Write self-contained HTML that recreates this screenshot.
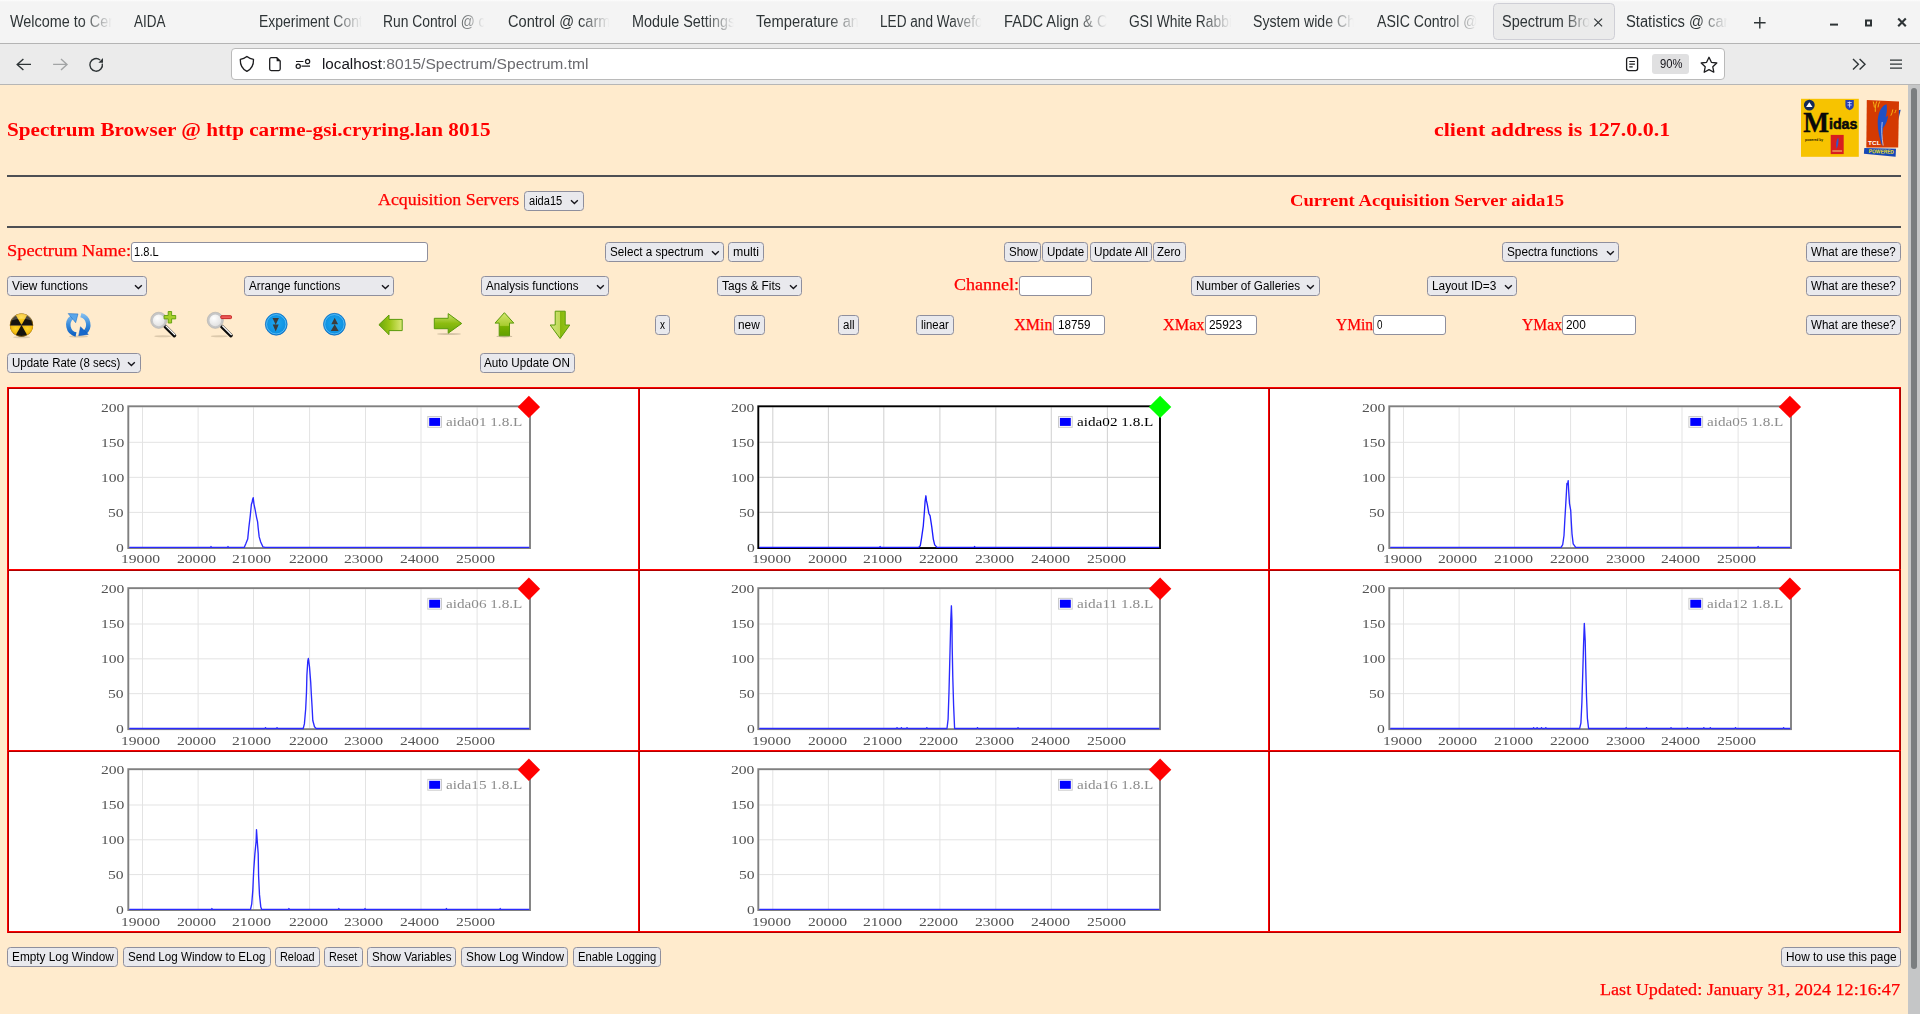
<!DOCTYPE html>
<html lang="en"><head><meta charset="utf-8"><title>Spectrum Browser</title>
<style>
html,body{margin:0;padding:0}
body{width:1920px;height:1014px;overflow:hidden;position:relative;background:#ffebcd;font-family:"Liberation Sans",sans-serif}
.a,.t,.btn,.inp,.hr,.tabbar,.navbar,.acttab,.urlbar,.zoomb,.tbl,.sbtrack,.sbthumb{position:absolute}
.t{white-space:pre;transform-origin:0 0;line-height:normal}
.sa{font-family:"Liberation Sans",sans-serif}
.se{font-family:"Liberation Serif",serif}
.tabbar{left:0;top:0;width:1920px;height:43px;background:linear-gradient(#fdfdfd 0,#f4f4f4 2px);border-bottom:1px solid #b4b4b4}
.navbar{left:0;top:44px;width:1920px;height:40px;background:#ebebeb;border-bottom:1px solid #b6b6b6}
.acttab{left:1492.500px;top:3px;width:122px;height:37px;box-sizing:border-box;background:#ebebeb;border:1px solid #cfcfd6;border-radius:4.500px}
.urlbar{left:231px;top:48px;width:1493.500px;height:31.500px;box-sizing:border-box;background:#fff;border:1px solid #bababa;border-radius:4px}
.zoomb{left:1652px;top:54px;width:36.800px;height:19.800px;background:#e0e0e1;border-radius:3px}
.btn{box-sizing:border-box;background:#e9e9ed;border:1px solid #8f8f9d;border-radius:3.500px}
.inp{box-sizing:border-box;background:#fff;border:1px solid #8f8f9d;border-radius:3px}
.hr{left:7px;width:1894px;height:2px;background:#4d4f53}
.tbl{left:7px;top:387px;width:1894px;height:546px;background:#fff}
.sbtrack{left:1908px;top:85px;width:12px;height:929px;background:#c5c6c7}
.sbthumb{left:1911px;top:88px;width:6px;height:881px;background:#7b7e80;border-radius:3px}
</style></head>
<body>
<div class="tabbar"></div><div class="navbar"></div>
<div class="acttab"></div>
<span class="t sa" style="left:10.00px;top:13.00px;font-size:15.8px;color:#2e3436;transform:scaleX(0.9118);-webkit-mask-image:linear-gradient(to right,#000 70%,transparent 99%);mask-image:linear-gradient(to right,#000 70%,transparent 99%);">Welcome to Cer</span>
<span class="t sa" style="left:134.25px;top:13.00px;font-size:15.8px;color:#2e3436;transform:scaleX(0.8542);">AIDA</span>
<span class="t sa" style="left:258.75px;top:13.00px;font-size:15.8px;color:#2e3436;transform:scaleX(0.8818);-webkit-mask-image:linear-gradient(to right,#000 70%,transparent 99%);mask-image:linear-gradient(to right,#000 70%,transparent 99%);">Experiment Cont</span>
<span class="t sa" style="left:382.50px;top:13.00px;font-size:15.8px;color:#2e3436;transform:scaleX(0.8760);-webkit-mask-image:linear-gradient(to right,#000 70%,transparent 99%);mask-image:linear-gradient(to right,#000 70%,transparent 99%);">Run Control @ c</span>
<span class="t sa" style="left:507.50px;top:13.00px;font-size:15.8px;color:#2e3436;transform:scaleX(0.9247);-webkit-mask-image:linear-gradient(to right,#000 70%,transparent 99%);mask-image:linear-gradient(to right,#000 70%,transparent 99%);">Control @ carm</span>
<span class="t sa" style="left:631.75px;top:13.00px;font-size:15.8px;color:#2e3436;transform:scaleX(0.9114);-webkit-mask-image:linear-gradient(to right,#000 70%,transparent 99%);mask-image:linear-gradient(to right,#000 70%,transparent 99%);">Module Settings</span>
<span class="t sa" style="left:755.75px;top:13.00px;font-size:15.8px;color:#2e3436;transform:scaleX(0.9309);-webkit-mask-image:linear-gradient(to right,#000 70%,transparent 99%);mask-image:linear-gradient(to right,#000 70%,transparent 99%);">Temperature an</span>
<span class="t sa" style="left:880.00px;top:13.00px;font-size:15.8px;color:#2e3436;transform:scaleX(0.8625);-webkit-mask-image:linear-gradient(to right,#000 70%,transparent 99%);mask-image:linear-gradient(to right,#000 70%,transparent 99%);">LED and Wavefo</span>
<span class="t sa" style="left:1004.00px;top:13.00px;font-size:15.8px;color:#2e3436;transform:scaleX(0.9283);-webkit-mask-image:linear-gradient(to right,#000 70%,transparent 99%);mask-image:linear-gradient(to right,#000 70%,transparent 99%);">FADC Align &amp; C</span>
<span class="t sa" style="left:1128.50px;top:13.00px;font-size:15.8px;color:#2e3436;transform:scaleX(0.8754);-webkit-mask-image:linear-gradient(to right,#000 70%,transparent 99%);mask-image:linear-gradient(to right,#000 70%,transparent 99%);">GSI White Rabbi</span>
<span class="t sa" style="left:1253.00px;top:13.00px;font-size:15.8px;color:#2e3436;transform:scaleX(0.8936);-webkit-mask-image:linear-gradient(to right,#000 70%,transparent 99%);mask-image:linear-gradient(to right,#000 70%,transparent 99%);">System wide Ch</span>
<span class="t sa" style="left:1377.00px;top:13.00px;font-size:15.8px;color:#2e3436;transform:scaleX(0.8925);-webkit-mask-image:linear-gradient(to right,#000 70%,transparent 99%);mask-image:linear-gradient(to right,#000 70%,transparent 99%);">ASIC Control @</span>
<span class="t sa" style="left:1501.75px;top:13.00px;font-size:15.8px;color:#2e3436;transform:scaleX(0.9138);-webkit-mask-image:linear-gradient(to right,#000 70%,transparent 99%);mask-image:linear-gradient(to right,#000 70%,transparent 99%);">Spectrum Bro</span>
<span class="t sa" style="left:1626.25px;top:13.00px;font-size:15.8px;color:#2e3436;transform:scaleX(0.9321);-webkit-mask-image:linear-gradient(to right,#000 70%,transparent 99%);mask-image:linear-gradient(to right,#000 70%,transparent 99%);">Statistics @ car</span>
<svg class="a" style="left:1590px;top:14px" width="18" height="18" viewBox="0 0 18 18"><path d="M4.3 4.6l7.8 7.8M12.1 4.6l-7.8 7.800" stroke="#2e3436" stroke-width="1.150" fill="none"/></svg>
<svg class="a" style="left:1750px;top:13px" width="20" height="20" viewBox="0 0 20 20"><path d="M4 9.75h11.6M9.8 4v11.6" stroke="#2e3436" stroke-width="1.4" fill="none"/></svg>
<svg class="a" style="left:1824px;top:12px" width="90" height="22" viewBox="0 0 90 22"><path d="M6 12.6h8" stroke="#2e3436" stroke-width="2"/><rect x="42" y="8.5" width="5" height="5" fill="none" stroke="#2e3436" stroke-width="2"/><path d="M74.2 6.6l7.6 7.6M81.8 6.6l-7.6 7.6" stroke="#2e3436" stroke-width="2.1"/></svg>
<svg class="a" style="left:10px;top:54px" width="100" height="22" viewBox="0 0 100 22"><path d="M21 10.4H7.2M13.4 5L7.2 10.4l6.2 5.7" stroke="#2e3436" stroke-width="1.4" fill="none"/><path d="M43.1 10.4H57M51 5l6 5.4-6 5.7" stroke="#a2a4a5" stroke-width="1.4" fill="none"/><path d="M92.3 9.6a6.3 6.3 0 1 1-2.2-3.6" stroke="#2e3436" stroke-width="1.4" fill="none"/><path d="M93 4v4.8h-4.6z" fill="#2e3436"/></svg>
<div class="urlbar"></div>
<svg class="a" style="left:236px;top:52px" width="80" height="24" viewBox="0 0 80 24"><path d="M10.9 4.4c2 1.6 4.3 2.6 6.6 3 .2 5.600-2.200 9.600-6.600 12-4.400-2.400-6.800-6.400-6.600-12 2.300-.4 4.600-1.400 6.600-3z" fill="none" stroke="#1c1c1e" stroke-width="1.3" stroke-linejoin="round"/><path d="M35.200 5.700h5.600l3.400 3.400v8a1.500 1.500 0 0 1-1.500 1.500h-7.500a1.500 1.500 0 0 1-1.500-1.500v-9.900a1.500 1.500 0 0 1 1.500-1.500z" fill="none" stroke="#1c1c1e" stroke-width="1.3"/><path d="M40.600 5.700l3.600 3.600h-3.600z" fill="#1c1c1e"/><path d="M60 9.500h7.400M65.500 14.200h8.500" stroke="#1c1c1e" stroke-width="1.200"/><circle cx="71.600" cy="9.500" r="2.100" fill="none" stroke="#1c1c1e" stroke-width="1.200"/><circle cx="62.250" cy="14.200" r="2.100" fill="none" stroke="#1c1c1e" stroke-width="1.200"/></svg>
<span class="t sa" style="left:321.60px;top:54.70px;font-size:15.4px;color:#15141a;transform:scaleX(0.9860);">localhost</span>
<span class="t sa" style="left:381.50px;top:54.70px;font-size:15.4px;color:#6a6a6e;transform:scaleX(1.0143);">:8015/Spectrum/Spectrum.tml</span>
<svg class="a" style="left:1622px;top:54px" width="20" height="20" viewBox="0 0 20 20"><rect x="4.600" y="3.600" width="11" height="13" rx="2" fill="none" stroke="#1c1c1e" stroke-width="1.300"/><path d="M7.300 7.500h5.600M7.300 10.200h5.600M7.300 12.900h3.400" stroke="#1c1c1e" stroke-width="1.200"/></svg>
<div class="zoomb"></div>
<span class="t sa" style="left:1659.50px;top:57.20px;font-size:12.5px;color:#15141a;transform:scaleX(0.8989);">90%</span>
<svg class="a" style="left:1698px;top:54px" width="22" height="22" viewBox="0 0 22 22"><path d="M11 3.300l2.400 5 5.400.700-4 3.800 1 5.400-4.800-2.600-4.800 2.600 1-5.400-4-3.800 5.400-.700z" fill="none" stroke="#1c1c1e" stroke-width="1.300" stroke-linejoin="round"/></svg>
<svg class="a" style="left:1848px;top:54px" width="60" height="20" viewBox="0 0 60 20"><path d="M5 5l5.400 5.200L5 15.400M11.600 5l5.400 5.200-5.400 5.200" stroke="#2e3436" stroke-width="1.400" fill="none"/><path d="M42 6.100h12M42 10.100h12M42 14.100h12" stroke="#2e3436" stroke-width="1.300"/></svg>
<span class="t se" style="left:6.90px;top:119.00px;font-size:19.2px;color:#ff0000;font-weight:bold;transform:scaleX(1.1026);">Spectrum Browser @ http carme-gsi.cryring.lan 8015</span>
<span class="t se" style="left:1434.00px;top:119.00px;font-size:19.2px;color:#ff0000;font-weight:bold;transform:scaleX(1.1441);">client address is 127.0.0.1</span>
<div class="hr" style="top:175px"></div><div class="hr" style="top:226px"></div>
<span class="t se" style="left:377.50px;top:190.80px;font-size:16px;color:#ff0000;transform:scaleX(1.1152);-webkit-text-stroke:0.250px #f00;">Acquisition Servers</span>
<div class="btn" style="left:524.00px;top:191.00px;width:60.00px;height:20.00px"></div><span class="t sa" style="left:528.75px;top:193.90px;font-size:12px;color:#000;transform:scaleX(0.9224);">aida15</span><svg class="a" style="left:570.40px;top:198.60px" width="9" height="6" viewBox="0 0 9 6"><path d="M1 1.200l3.400 3.400 3.400-3.400" fill="none" stroke="#15141a" stroke-width="1.350"/></svg>
<span class="t se" style="left:1290.00px;top:191.60px;font-size:16px;color:#ff0000;font-weight:bold;transform:scaleX(1.1639);">Current Acquisition Server aida15</span>
<span class="t se" style="left:6.60px;top:241.80px;font-size:16px;color:#ff0000;transform:scaleX(1.1485);-webkit-text-stroke:0.250px #f00;">Spectrum Name:</span>
<div class="inp" style="left:131.25px;top:242.00px;width:296.75px;height:20.00px"></div><span class="t sa" style="left:134.25px;top:244.90px;font-size:12px;color:#000;transform:scaleX(0.9231);">1.8.L</span>
<div class="btn" style="left:605.00px;top:242.00px;width:118.75px;height:20.00px"></div><span class="t sa" style="left:610.00px;top:244.90px;font-size:12px;color:#000;transform:scaleX(0.9735);">Select a spectrum</span><svg class="a" style="left:710.65px;top:249.60px" width="9" height="6" viewBox="0 0 9 6"><path d="M1 1.200l3.400 3.400 3.400-3.400" fill="none" stroke="#15141a" stroke-width="1.350"/></svg>
<div class="btn" style="left:728.25px;top:242.00px;width:35.50px;height:20.00px"></div><span class="t sa" style="left:733.25px;top:244.90px;font-size:12px;color:#000;transform:scaleX(1.0259);">multi</span>
<div class="btn" style="left:1004.20px;top:242.00px;width:37.20px;height:20.00px"></div><span class="t sa" style="left:1008.75px;top:244.90px;font-size:12px;color:#000;transform:scaleX(0.9573);">Show</span>
<div class="btn" style="left:1042.40px;top:242.00px;width:46.00px;height:20.00px"></div><span class="t sa" style="left:1047.00px;top:244.90px;font-size:12px;color:#000;transform:scaleX(0.9625);">Update</span>
<div class="btn" style="left:1089.60px;top:242.00px;width:62.00px;height:20.00px"></div><span class="t sa" style="left:1093.75px;top:244.90px;font-size:12px;color:#000;transform:scaleX(0.9826);">Update All</span>
<div class="btn" style="left:1152.60px;top:242.00px;width:33.00px;height:20.00px"></div><span class="t sa" style="left:1157.00px;top:244.90px;font-size:12px;color:#000;transform:scaleX(0.9620);">Zero</span>
<div class="btn" style="left:1502.00px;top:242.00px;width:116.75px;height:20.00px"></div><span class="t sa" style="left:1507.00px;top:244.90px;font-size:12px;color:#000;transform:scaleX(0.9815);">Spectra functions</span><svg class="a" style="left:1605.65px;top:249.60px" width="9" height="6" viewBox="0 0 9 6"><path d="M1 1.200l3.400 3.400 3.400-3.400" fill="none" stroke="#15141a" stroke-width="1.350"/></svg>
<div class="btn" style="left:1806.25px;top:242.00px;width:94.35px;height:20.00px"></div><span class="t sa" style="left:1810.75px;top:244.90px;font-size:12px;color:#000;transform:scaleX(0.9624);">What are these?</span>
<div class="btn" style="left:7.00px;top:276.00px;width:140.00px;height:20.00px"></div><span class="t sa" style="left:12.00px;top:278.90px;font-size:12px;color:#000;transform:scaleX(0.9850);">View functions</span><svg class="a" style="left:133.90px;top:283.60px" width="9" height="6" viewBox="0 0 9 6"><path d="M1 1.200l3.400 3.400 3.400-3.400" fill="none" stroke="#15141a" stroke-width="1.350"/></svg>
<div class="btn" style="left:244.25px;top:276.00px;width:149.50px;height:20.00px"></div><span class="t sa" style="left:248.75px;top:278.90px;font-size:12px;color:#000;transform:scaleX(0.9701);">Arrange functions</span><svg class="a" style="left:380.65px;top:283.60px" width="9" height="6" viewBox="0 0 9 6"><path d="M1 1.200l3.400 3.400 3.400-3.400" fill="none" stroke="#15141a" stroke-width="1.350"/></svg>
<div class="btn" style="left:481.25px;top:276.00px;width:127.50px;height:20.00px"></div><span class="t sa" style="left:485.50px;top:278.90px;font-size:12px;color:#000;transform:scaleX(0.9631);">Analysis functions</span><svg class="a" style="left:595.65px;top:283.60px" width="9" height="6" viewBox="0 0 9 6"><path d="M1 1.200l3.400 3.400 3.400-3.400" fill="none" stroke="#15141a" stroke-width="1.350"/></svg>
<div class="btn" style="left:717.00px;top:276.00px;width:85.00px;height:20.00px"></div><span class="t sa" style="left:722.00px;top:278.90px;font-size:12px;color:#000;transform:scaleX(0.9897);">Tags &amp; Fits</span><svg class="a" style="left:788.65px;top:283.60px" width="9" height="6" viewBox="0 0 9 6"><path d="M1 1.200l3.400 3.400 3.400-3.400" fill="none" stroke="#15141a" stroke-width="1.350"/></svg>
<span class="t se" style="left:953.60px;top:276.00px;font-size:16px;color:#ff0000;transform:scaleX(1.1252);-webkit-text-stroke:0.250px #f00;">Channel:</span>
<div class="inp" style="left:1019.25px;top:276.00px;width:72.50px;height:20.00px"></div>
<div class="btn" style="left:1191.25px;top:276.00px;width:128.25px;height:20.00px"></div><span class="t sa" style="left:1195.50px;top:278.90px;font-size:12px;color:#000;transform:scaleX(0.9745);">Number of Galleries</span><svg class="a" style="left:1306.40px;top:283.60px" width="9" height="6" viewBox="0 0 9 6"><path d="M1 1.200l3.400 3.400 3.400-3.400" fill="none" stroke="#15141a" stroke-width="1.350"/></svg>
<div class="btn" style="left:1427.00px;top:276.00px;width:89.50px;height:20.00px"></div><span class="t sa" style="left:1432.00px;top:278.90px;font-size:12px;color:#000;transform:scaleX(0.9877);">Layout ID=3</span><svg class="a" style="left:1503.65px;top:283.60px" width="9" height="6" viewBox="0 0 9 6"><path d="M1 1.200l3.400 3.400 3.400-3.400" fill="none" stroke="#15141a" stroke-width="1.350"/></svg>
<div class="btn" style="left:1806.25px;top:276.00px;width:94.35px;height:20.00px"></div><span class="t sa" style="left:1810.75px;top:278.90px;font-size:12px;color:#000;transform:scaleX(0.9624);">What are these?</span>
<div class="btn" style="left:655.00px;top:315.00px;width:15.00px;height:20.00px"></div><span class="t sa" style="left:660.00px;top:317.90px;font-size:12px;color:#000;transform:scaleX(0.8333);">x</span>
<div class="btn" style="left:734.25px;top:315.00px;width:30.75px;height:20.00px"></div><span class="t sa" style="left:738.25px;top:317.90px;font-size:12px;color:#000;transform:scaleX(0.9879);">new</span>
<div class="btn" style="left:838.00px;top:315.00px;width:20.75px;height:20.00px"></div><span class="t sa" style="left:843.00px;top:317.90px;font-size:12px;color:#000;transform:scaleX(0.9571);">all</span>
<div class="btn" style="left:916.25px;top:315.00px;width:37.50px;height:20.00px"></div><span class="t sa" style="left:921.25px;top:317.90px;font-size:12px;color:#000;transform:scaleX(0.9452);">linear</span>
<span class="t se" style="left:1014.25px;top:315.50px;font-size:16px;color:#ff0000;-webkit-text-stroke:0.250px #f00;">XMin</span>
<div class="inp" style="left:1053.00px;top:315.00px;width:52.00px;height:20.00px"></div><span class="t sa" style="left:1057.50px;top:317.90px;font-size:12px;color:#000;transform:scaleX(0.9738);">18759</span>
<span class="t se" style="left:1163.00px;top:315.50px;font-size:16px;color:#ff0000;transform:scaleX(1.0149);-webkit-text-stroke:0.250px #f00;">XMax</span>
<div class="inp" style="left:1205.25px;top:315.00px;width:51.75px;height:20.00px"></div><span class="t sa" style="left:1208.75px;top:317.90px;font-size:12px;color:#000;transform:scaleX(0.9888);">25923</span>
<span class="t se" style="left:1335.50px;top:315.50px;font-size:16px;color:#ff0000;transform:scaleX(0.9677);-webkit-text-stroke:0.250px #f00;">YMin</span>
<div class="inp" style="left:1373.25px;top:315.00px;width:72.75px;height:20.00px"></div><span class="t sa" style="left:1377.00px;top:317.90px;font-size:12px;color:#000;transform:scaleX(0.8224);">0</span>
<span class="t se" style="left:1522.00px;top:315.50px;font-size:16px;color:#ff0000;transform:scaleX(0.9782);-webkit-text-stroke:0.250px #f00;">YMax</span>
<div class="inp" style="left:1562.00px;top:315.00px;width:74.00px;height:20.00px"></div><span class="t sa" style="left:1566.00px;top:317.90px;font-size:12px;color:#000;transform:scaleX(0.9860);">200</span>
<div class="btn" style="left:1806.25px;top:315.00px;width:94.35px;height:20.00px"></div><span class="t sa" style="left:1810.75px;top:317.90px;font-size:12px;color:#000;transform:scaleX(0.9624);">What are these?</span>
<div class="btn" style="left:7.00px;top:353.00px;width:134.00px;height:20.00px"></div><span class="t sa" style="left:11.90px;top:355.90px;font-size:12px;color:#000;transform:scaleX(0.9560);">Update Rate (8 secs)</span><svg class="a" style="left:127.40px;top:360.60px" width="9" height="6" viewBox="0 0 9 6"><path d="M1 1.200l3.400 3.400 3.400-3.400" fill="none" stroke="#15141a" stroke-width="1.350"/></svg>
<div class="btn" style="left:480.30px;top:353.00px;width:94.70px;height:20.00px"></div><span class="t sa" style="left:484.40px;top:355.90px;font-size:12px;color:#000;transform:scaleX(0.9754);">Auto Update ON</span>
<svg class="a" style="left:1798px;top:96px" width="106" height="64" viewBox="1798 96 106 64"><rect x="1801" y="98.800" width="57.800" height="58" fill="#f7c300"/><circle cx="1809.300" cy="105.100" r="5.400" fill="#152a58"/><path d="M1809.300 102.300l3.200 4.600h-6.400z" fill="#fff"/><path d="M1845.400 100h8.400v5.500c0 2.500-2 4-4.200 4.800-2.200-.800-4.200-2.300-4.200-4.800z" fill="#2640b4"/><path d="M1847.500 102.500h4.200M1847.500 105h4.200M1849.600 101.500v6" stroke="#cfd8ff" stroke-width="0.900"/><text x="1803.200" y="131.500" font-family="'Liberation Serif',serif" font-weight="bold" font-size="29" textLength="25.800" lengthAdjust="spacingAndGlyphs" fill="#0a0a0a" stroke="#0a0a0a" stroke-width="0.400">M</text><text x="1829" y="129" font-family="'Liberation Sans',sans-serif" font-weight="bold" font-size="14.500" textLength="28.400" lengthAdjust="spacingAndGlyphs" fill="#0a0a0a" stroke="#0a0a0a" stroke-width="0.550">idas</text><text x="1805" y="140.700" font-family="'Liberation Sans',sans-serif" font-weight="bold" font-size="3.800" textLength="18" lengthAdjust="spacingAndGlyphs" fill="#1a1400">powered by</text><rect x="1830.700" y="134.900" width="13" height="19.200" fill="#d81e1e"/><path d="M1838.300 137.500c-2.200 2.500-2.600 7-1.600 11.500 1.400-3.500 2.200-7.500 1.600-11.500z" fill="#2a58d0"/><path d="M1832.300 151h9.800" stroke="#f0a060" stroke-width="1.400"/><path d="M1864.300 147.900l31.700.800-.4 8-31.700-2.900z" fill="#1648b8"/><path d="M1898.200 110.200l2.500-.4-2.500 10.400z" fill="#1648b8"/><path d="M1866.800 100.100l32.200 1.300-.800 46.100-31.900-.1z" fill="#d43a02"/><path d="M1886.500 104.300c-5.500 1.500-9 9.500-8.800 19.500.1 6.500 1.600 13 3.600 19.700l1.300 2.900c-.6-6.400-.3-12.600.5-18.400 2.700-3.200 4.800-7.800 4.900-12.700l-2.400 2.200c1.200-4.300 1.800-8.700.9-13.200z" fill="#1f50c4"/><path d="M1882.200 122c-.9 7.500-.5 15.500 1 23.500" stroke="#e8eefc" stroke-width="0.700" fill="none"/><path d="M1873.200 101.500c.6 2 1 4 1.200 6M1876.800 101.300c-1.200 3-1.700 6.500-1.500 10.500M1879.800 101.400c-1 1.800-1.600 3.800-1.800 6M1892.800 109.500c-.3 2.200-1 4.300-2 6.200M1896 109.800c-.3 1.200-.7 2.300-1.300 3.300" stroke="#f4b414" stroke-width="1" fill="none"/><text x="1868" y="145.100" font-family="'Liberation Sans',sans-serif" font-weight="bold" font-size="5.400" textLength="12.600" lengthAdjust="spacingAndGlyphs" fill="#fff">TCL</text><text x="1868.900" y="153.400" font-family="'Liberation Sans',sans-serif" font-weight="bold" font-size="5.600" textLength="25" lengthAdjust="spacingAndGlyphs" fill="#f2e020" transform="rotate(1.500 1880 152)">POWERED</text></svg>
<svg class="a" style="left:0;top:300px" width="620" height="50" viewBox="0 300 620 50"><defs>
<radialGradient id="gl" cx="0.4" cy="0.35" r="0.7"><stop offset="0" stop-color="#fff"/><stop offset="1" stop-color="#dcdcdc"/></radialGradient>
<radialGradient id="bl" cx="0.5" cy="0.45" r="0.6"><stop offset="0" stop-color="#1fa8f0"/><stop offset="0.8" stop-color="#0d8fe0"/><stop offset="1" stop-color="#0a62b8"/></radialGradient>
<linearGradient id="gh" x1="0" x2="1" y1="0" y2="0"><stop offset="0" stop-color="#6aa80a"/><stop offset="0.45" stop-color="#9ac414"/><stop offset="1" stop-color="#dde878"/></linearGradient>
<linearGradient id="gv" x1="0" x2="0" y1="0" y2="1"><stop offset="0" stop-color="#cfe470"/><stop offset="0.5" stop-color="#8cbc10"/><stop offset="1" stop-color="#6aa80a"/></linearGradient>
<linearGradient id="gu" x1="0" x2="0" y1="0" y2="1"><stop offset="0" stop-color="#d4e66e"/><stop offset="0.55" stop-color="#a8cc30"/><stop offset="0.6" stop-color="#78b000"/><stop offset="1" stop-color="#62a000"/></linearGradient>
<linearGradient id="gd" x1="0" x2="1" y1="0" y2="0"><stop offset="0" stop-color="#d2e680"/><stop offset="0.48" stop-color="#c0d858"/><stop offset="0.52" stop-color="#86b80c"/><stop offset="1" stop-color="#9cc820"/></linearGradient>
<linearGradient id="rb" gradientUnits="userSpaceOnUse" x1="0" x2="0" y1="313" y2="336"><stop offset="0" stop-color="#8cc4f2"/><stop offset="0.5" stop-color="#3a8cdc"/><stop offset="1" stop-color="#0a5cc0"/></linearGradient>
<radialGradient id="yb" cx="0.5" cy="0.35" r="0.7"><stop offset="0" stop-color="#ffd62a"/><stop offset="1" stop-color="#e8a800"/></radialGradient>
</defs><ellipse cx="21.600" cy="337.200" rx="8.500" ry="1.100" fill="#8a7a60" opacity="0.28"/><circle cx="21.50" cy="325.10" r="11.60" fill="#16140e"/><path d="M21.50 325.10L15.70 315.05A11.60 11.60 0 0 1 27.30 315.05z" fill="url(#yb)"/><path d="M21.50 325.10L33.10 325.10A11.60 11.60 0 0 1 27.30 335.15z" fill="url(#yb)"/><path d="M21.50 325.10L15.70 335.15A11.60 11.60 0 0 1 9.90 325.10z" fill="url(#yb)"/><circle cx="21.50" cy="325.10" r="11.30" fill="none" stroke="#d89400" stroke-opacity="0.6" stroke-width="0.800"/><path d="M10 325.200H33" stroke="#14183a" stroke-width="0.900" opacity="0.85"/><path d="M11.300 320.500a11 11 0 0 1 20.600 0a18 9 0 0 0-20.600 0z" fill="#fff" opacity="0.22"/><ellipse cx="78.500" cy="336.500" rx="9.500" ry="1.100" fill="#8a7a60" opacity="0.3"/><path d="M76 334.500A9.900 9.900 0 0 1 72.300 316.900" fill="none" stroke="url(#rb)" stroke-width="4.400"/><path d="M68.200 313.600l9.800.300-2.300 8.800z" fill="#5aa6ea" stroke="#1464c0" stroke-width="0.500" stroke-linejoin="round"/><path d="M80.900 315.200A9.900 9.900 0 0 1 84.600 332.500" fill="none" stroke="url(#rb)" stroke-width="4.400"/><path d="M80.500 326.800l7.800 7.600-9.600 1.300z" fill="#1668cc" stroke="#1058b8" stroke-width="0.500" stroke-linejoin="round"/><ellipse cx="162.75" cy="336.300" rx="8.500" ry="1" fill="#8a7a60" opacity="0.3"/><path d="M165.15 326.400l9.300 9.200" stroke="#0c0c0c" stroke-width="3.600" stroke-linecap="round"/><path d="M166.05 326l8.800 8.700" stroke="#fafafa" stroke-width="1.250" stroke-linecap="round"/><circle cx="158.75" cy="320.300" r="7" fill="url(#gl)" stroke="#c6c6c6" stroke-width="2.200"/><circle cx="158.75" cy="320.300" r="8.100" fill="none" stroke="#a8a8a8" stroke-width="0.500"/><ellipse cx="219.30" cy="336.300" rx="8.500" ry="1" fill="#8a7a60" opacity="0.3"/><path d="M221.70 326.400l9.300 9.200" stroke="#0c0c0c" stroke-width="3.600" stroke-linecap="round"/><path d="M222.60 326l8.800 8.700" stroke="#fafafa" stroke-width="1.250" stroke-linecap="round"/><circle cx="215.30" cy="320.300" r="7" fill="url(#gl)" stroke="#c6c6c6" stroke-width="2.200"/><circle cx="215.30" cy="320.300" r="8.100" fill="none" stroke="#a8a8a8" stroke-width="0.500"/><path d="M168.200 311.500h3.400v4h4.100v3.400h-4.100v4.100h-3.400v-4.100h-4.100v-3.400h4.100z" fill="#a6cf2a" stroke="#5f9e0c" stroke-width="0.900" stroke-linejoin="round"/><rect x="220.800" y="315.700" width="10.700" height="2.900" rx="0.800" fill="#ee5a5a" stroke="#c01818" stroke-width="0.900"/><circle cx="276.25" cy="324.250" r="10.900" fill="url(#bl)" stroke="#0b6cc2" stroke-width="0.700"/><circle cx="276.25" cy="324.250" r="9.700" fill="none" stroke="#8ad6ff" stroke-opacity="0.7" stroke-width="0.800"/><path d="M272.500 318.100h6.400l-3.200 6.600zM272.700 324.400h6l-3 7z" fill="#3c3c3c"/><circle cx="334.40" cy="324.250" r="10.900" fill="url(#bl)" stroke="#0b6cc2" stroke-width="0.700"/><circle cx="334.40" cy="324.250" r="9.700" fill="none" stroke="#8ad6ff" stroke-opacity="0.7" stroke-width="0.800"/><path d="M334.700 317.700l3.400 6.600h-6.800zM334.700 324.300l3.900 6.800h-7.800z" fill="#3c3c3c"/><path d="M378.900 324.700L389 315v4.400h13.200v11.200H389v4.100z" fill="url(#gh)" stroke="#5a9a0a" stroke-width="1" stroke-linejoin="round"/><ellipse cx="449" cy="334" rx="12" ry="1" fill="#8a7a60" opacity="0.35"/><path d="M434.300 318.300h13.900v-4.700l13.500 9.900-13.500 9.700v-4.500h-13.900z" fill="url(#gv)" stroke="#5a9a0a" stroke-width="1" stroke-linejoin="round"/><ellipse cx="504.400" cy="336.400" rx="8" ry="1" fill="#8a7a60" opacity="0.4"/><path d="M504.400 312.700l9.400 10.400h-4.300v12.700h-10.300v-12.700h-4.200z" fill="url(#gu)" stroke="#5a9a0a" stroke-width="1" stroke-linejoin="round"/><path d="M555.200 311.200h10v13.800h4.600l-9.700 13.500-9.900-13.500h5z" fill="url(#gd)" stroke="#5a9a0a" stroke-width="1" stroke-linejoin="round"/></svg>
<div class="tbl"></div><div class="a" style="left:7px;top:387px;width:1px;height:546px;background:#f00"></div><div class="a" style="left:8px;top:387px;width:1px;height:546px;background:#b00000"></div><div class="a" style="left:638px;top:387px;width:1px;height:546px;background:#f00"></div><div class="a" style="left:639px;top:387px;width:1px;height:546px;background:#b00000"></div><div class="a" style="left:1268px;top:387px;width:1px;height:546px;background:#f00"></div><div class="a" style="left:1269px;top:387px;width:1px;height:546px;background:#b00000"></div><div class="a" style="left:1899px;top:387px;width:1px;height:546px;background:#f00"></div><div class="a" style="left:1900px;top:387px;width:1px;height:546px;background:#b00000"></div><div class="a" style="left:7px;top:387px;width:1894px;height:1px;background:#f00"></div><div class="a" style="left:8px;top:388px;width:1893px;height:1px;background:#b00000"></div><div class="a" style="left:7px;top:569px;width:1894px;height:1px;background:#f00"></div><div class="a" style="left:8px;top:570px;width:1893px;height:1px;background:#b00000"></div><div class="a" style="left:7px;top:750px;width:1894px;height:1px;background:#f00"></div><div class="a" style="left:8px;top:751px;width:1893px;height:1px;background:#b00000"></div><div class="a" style="left:7px;top:931px;width:1894px;height:1px;background:#f00"></div><div class="a" style="left:8px;top:932px;width:1893px;height:1px;background:#b00000"></div>
<svg class="a" style="left:0;top:0" width="1920" height="1014" viewBox="0 0 1920 1014"><path d="M142.50 407.30V547.40M198.10 407.30V547.40M253.50 407.30V547.40M309.60 407.30V547.40M365.50 407.30V547.40M421.00 407.30V547.40M477.10 407.30V547.40M129.30 512.38H529.30M129.30 477.35H529.30M129.30 442.32H529.30" stroke="#e3e3e3" stroke-width="1" fill="none"/><rect x="128.30" y="406.30" width="401.700" height="141.75" fill="none" stroke="#808080" stroke-width="1.900"/><polyline points="129.3,547.4 210.4,547.4 211.0,546.5 211.6,547.4 227.4,547.4 228.0,546.5 228.6,547.4 244.2,547.4 245.9,543.5 247.7,539.1 248.8,528.0 250.3,515.4 251.4,504.3 252.1,502.5 252.6,499.4 253.2,497.6 253.6,500.9 254.0,504.3 255.1,509.5 256.6,517.6 257.6,521.9 258.1,527.2 259.2,536.9 260.7,542.0 262.9,546.8 265.1,547.4 529.3,547.4" fill="none" stroke="#2a2aff" stroke-width="1.350" stroke-linejoin="round"/><rect x="427.80" y="416.50" width="13.700" height="10.800" fill="#fff" stroke="#ccc" stroke-width="1"/><rect x="429.20" y="417.90" width="10.900" height="8" fill="#0000ff"/><path d="M528.90 395.70L540.10 406.90 528.90 418.10 517.70 406.90z" fill="#ff0000"/><path d="M772.80 407.30V547.40M828.40 407.30V547.40M883.80 407.30V547.40M939.90 407.30V547.40M995.80 407.30V547.40M1051.30 407.30V547.40M1107.40 407.30V547.40M759.30 512.38H1159.30M759.30 477.35H1159.30M759.30 442.32H1159.30" stroke="#d4d4d4" stroke-width="1.1" fill="none"/><rect x="758.30" y="406.30" width="401.700" height="141.75" fill="none" stroke="#000" stroke-width="1.900"/><polyline points="759.3,547.4 879.5,547.4 880.1,546.5 880.7,547.4 918.5,547.4 920.3,545.7 921.4,539.1 923.3,525.8 924.4,511.7 925.1,501.3 925.9,495.8 926.4,500.4 927.3,504.3 928.8,513.2 930.1,515.9 930.7,519.9 931.8,527.2 933.3,539.1 934.7,544.9 937.0,547.4 974.0,547.4 974.6,546.5 975.2,547.4 1159.3,547.4" fill="none" stroke="#1c1cff" stroke-width="1.350" stroke-linejoin="round"/><rect x="1058.50" y="416.50" width="13.700" height="10.800" fill="#fff" stroke="#ccc" stroke-width="1"/><rect x="1059.90" y="417.90" width="10.900" height="8" fill="#0000ff"/><path d="M1160.10 395.70L1171.30 406.90 1160.10 418.10 1148.90 406.90z" fill="#00ff00"/><path d="M1403.50 407.30V547.40M1459.10 407.30V547.40M1514.50 407.30V547.40M1570.60 407.30V547.40M1626.50 407.30V547.40M1682.00 407.30V547.40M1738.10 407.30V547.40M1390.30 512.38H1790.30M1390.30 477.35H1790.30M1390.30 442.32H1790.30" stroke="#e3e3e3" stroke-width="1" fill="none"/><rect x="1389.30" y="406.30" width="401.700" height="141.75" fill="none" stroke="#808080" stroke-width="1.900"/><polyline points="1390.3,547.4 1561.1,547.4 1562.7,544.7 1564.0,535.5 1564.8,520.4 1565.7,505.3 1566.5,491.1 1566.9,483.5 1567.5,484.6 1568.2,480.6 1568.6,489.4 1569.5,503.6 1570.7,510.3 1571.3,522.1 1572.0,533.8 1573.2,543.9 1575.7,547.4 1757.5,547.4 1758.1,546.5 1758.7,547.4 1790.3,547.4" fill="none" stroke="#2a2aff" stroke-width="1.350" stroke-linejoin="round"/><rect x="1688.90" y="416.50" width="13.700" height="10.800" fill="#fff" stroke="#ccc" stroke-width="1"/><rect x="1690.30" y="417.90" width="10.900" height="8" fill="#0000ff"/><path d="M1789.90 395.70L1801.10 406.90 1789.90 418.10 1778.70 406.90z" fill="#ff0000"/><path d="M142.50 589.15V728.50M198.10 589.15V728.50M253.50 589.15V728.50M309.60 589.15V728.50M365.50 589.15V728.50M421.00 589.15V728.50M477.10 589.15V728.50M129.30 693.66H529.30M129.30 658.83H529.30M129.30 623.99H529.30" stroke="#e3e3e3" stroke-width="1" fill="none"/><rect x="128.30" y="588.15" width="401.700" height="141.00" fill="none" stroke="#808080" stroke-width="1.900"/><polyline points="129.3,728.5 264.9,728.5 265.5,727.6 266.1,728.5 276.4,728.5 277.0,727.6 277.6,728.5 303.2,728.5 304.4,723.9 305.7,708.8 306.5,692.0 306.9,675.2 307.8,661.0 308.4,658.5 309.5,666.9 310.7,682.0 311.3,693.7 312.1,707.1 312.8,720.5 314.5,726.8 316.2,728.5 529.3,728.5" fill="none" stroke="#2a2aff" stroke-width="1.350" stroke-linejoin="round"/><rect x="427.80" y="598.35" width="13.700" height="10.800" fill="#fff" stroke="#ccc" stroke-width="1"/><rect x="429.20" y="599.75" width="10.900" height="8" fill="#0000ff"/><path d="M528.90 577.55L540.10 588.75 528.90 599.95 517.70 588.75z" fill="#ff0000"/><path d="M772.80 589.15V728.50M828.40 589.15V728.50M883.80 589.15V728.50M939.90 589.15V728.50M995.80 589.15V728.50M1051.30 589.15V728.50M1107.40 589.15V728.50M759.30 693.66H1159.30M759.30 658.83H1159.30M759.30 623.99H1159.30" stroke="#e3e3e3" stroke-width="1" fill="none"/><rect x="758.30" y="588.15" width="401.700" height="141.00" fill="none" stroke="#808080" stroke-width="1.900"/><polyline points="759.3,728.5 896.4,728.5 897.0,727.6 897.6,728.5 900.8,728.5 901.4,727.6 902.0,728.5 906.4,728.5 907.0,727.6 907.6,728.5 926.2,728.5 926.8,727.6 927.4,728.5 947.0,728.5 948.1,719.1 949.0,691.5 949.7,663.8 950.4,636.2 950.8,619.7 951.4,605.8 951.9,619.7 952.2,647.3 952.8,677.7 953.6,705.3 954.6,728.5 976.9,728.5 977.5,727.6 978.1,728.5 1017.4,728.5 1018.0,727.6 1018.6,728.5 1159.3,728.5" fill="none" stroke="#2a2aff" stroke-width="1.350" stroke-linejoin="round"/><rect x="1058.50" y="598.35" width="13.700" height="10.800" fill="#fff" stroke="#ccc" stroke-width="1"/><rect x="1059.90" y="599.75" width="10.900" height="8" fill="#0000ff"/><path d="M1160.10 577.55L1171.30 588.75 1160.10 599.95 1148.90 588.75z" fill="#ff0000"/><path d="M1403.50 589.15V728.50M1459.10 589.15V728.50M1514.50 589.15V728.50M1570.60 589.15V728.50M1626.50 589.15V728.50M1682.00 589.15V728.50M1738.10 589.15V728.50M1390.30 693.66H1790.30M1390.30 658.83H1790.30M1390.30 623.99H1790.30" stroke="#e3e3e3" stroke-width="1" fill="none"/><rect x="1389.30" y="588.15" width="401.700" height="141.00" fill="none" stroke="#808080" stroke-width="1.900"/><polyline points="1390.3,728.5 1533.0,728.5 1533.6,727.6 1534.2,728.5 1536.5,728.5 1537.1,727.6 1537.7,728.5 1540.9,728.5 1541.5,727.6 1542.1,728.5 1545.2,728.5 1545.8,727.6 1546.4,728.5 1579.6,728.5 1580.9,723.2 1581.9,702.3 1582.8,671.5 1583.5,646.8 1584.3,623.4 1585.2,640.6 1585.8,669.0 1586.5,696.1 1587.4,718.3 1588.6,728.5 1625.5,728.5 1626.1,727.6 1626.7,728.5 1645.9,728.5 1646.5,727.6 1647.1,728.5 1670.4,728.5 1671.0,727.6 1671.6,728.5 1686.8,728.5 1687.4,727.6 1688.0,728.5 1703.2,728.5 1703.8,727.6 1704.4,728.5 1709.7,728.5 1710.3,727.6 1710.9,728.5 1734.9,728.5 1735.5,727.6 1736.1,728.5 1783.0,728.5 1783.6,727.6 1784.2,728.5 1790.3,728.5" fill="none" stroke="#2a2aff" stroke-width="1.350" stroke-linejoin="round"/><rect x="1688.90" y="598.35" width="13.700" height="10.800" fill="#fff" stroke="#ccc" stroke-width="1"/><rect x="1690.30" y="599.75" width="10.900" height="8" fill="#0000ff"/><path d="M1789.90 577.55L1801.10 588.75 1789.90 599.95 1778.70 588.75z" fill="#ff0000"/><path d="M142.50 770.20V909.40M198.10 770.20V909.40M253.50 770.20V909.40M309.60 770.20V909.40M365.50 770.20V909.40M421.00 770.20V909.40M477.10 770.20V909.40M129.30 874.60H529.30M129.30 839.80H529.30M129.30 805.00H529.30" stroke="#e3e3e3" stroke-width="1" fill="none"/><rect x="128.30" y="769.20" width="401.700" height="140.85" fill="none" stroke="#808080" stroke-width="1.900"/><polyline points="129.3,909.4 211.3,909.4 211.9,908.5 212.5,909.4 250.5,909.4 251.7,904.2 252.8,890.2 253.7,870.5 254.9,853.6 256.1,841.5 256.5,829.7 257.3,841.5 258.2,853.6 258.6,876.1 259.5,894.9 260.8,907.1 261.7,909.4 288.3,909.4 288.9,908.5 289.5,909.4 338.2,909.4 338.8,908.5 339.4,909.4 364.4,909.4 365.0,908.5 365.6,909.4 445.8,909.4 446.4,908.5 447.0,909.4 499.6,909.4 500.2,908.5 500.8,909.4 529.3,909.4" fill="none" stroke="#2a2aff" stroke-width="1.350" stroke-linejoin="round"/><rect x="427.80" y="779.40" width="13.700" height="10.800" fill="#fff" stroke="#ccc" stroke-width="1"/><rect x="429.20" y="780.80" width="10.900" height="8" fill="#0000ff"/><path d="M528.90 758.60L540.10 769.80 528.90 781.00 517.70 769.80z" fill="#ff0000"/><path d="M772.80 770.20V909.40M828.40 770.20V909.40M883.80 770.20V909.40M939.90 770.20V909.40M995.80 770.20V909.40M1051.30 770.20V909.40M1107.40 770.20V909.40M759.30 874.60H1159.30M759.30 839.80H1159.30M759.30 805.00H1159.30" stroke="#e3e3e3" stroke-width="1" fill="none"/><rect x="758.30" y="769.20" width="401.700" height="140.85" fill="none" stroke="#808080" stroke-width="1.900"/><polyline points="759.3,909.4 1159.3,909.4" fill="none" stroke="#2a2aff" stroke-width="1.350" stroke-linejoin="round"/><rect x="1058.50" y="779.40" width="13.700" height="10.800" fill="#fff" stroke="#ccc" stroke-width="1"/><rect x="1059.90" y="780.80" width="10.900" height="8" fill="#0000ff"/><path d="M1160.10 758.60L1171.30 769.80 1160.10 781.00 1148.90 769.80z" fill="#ff0000"/></svg>
<span class="t se" style="left:100.56px;top:401.20px;font-size:12.3px;color:#545454;transform:scaleX(1.2700);">200</span><span class="t se" style="left:100.56px;top:436.15px;font-size:12.3px;color:#545454;transform:scaleX(1.2700);">150</span><span class="t se" style="left:100.56px;top:471.10px;font-size:12.3px;color:#545454;transform:scaleX(1.2700);">100</span><span class="t se" style="left:108.38px;top:506.05px;font-size:12.3px;color:#545454;transform:scaleX(1.2700);">50</span><span class="t se" style="left:116.18px;top:541.00px;font-size:12.3px;color:#545454;transform:scaleX(1.2700);">0</span><span class="t se" style="left:121.47px;top:552.10px;font-size:12.3px;color:#545454;transform:scaleX(1.2700);">19000</span><span class="t se" style="left:177.07px;top:552.10px;font-size:12.3px;color:#545454;transform:scaleX(1.2700);">20000</span><span class="t se" style="left:232.47px;top:552.10px;font-size:12.3px;color:#545454;transform:scaleX(1.2700);">21000</span><span class="t se" style="left:288.57px;top:552.10px;font-size:12.3px;color:#545454;transform:scaleX(1.2700);">22000</span><span class="t se" style="left:344.47px;top:552.10px;font-size:12.3px;color:#545454;transform:scaleX(1.2700);">23000</span><span class="t se" style="left:399.97px;top:552.10px;font-size:12.3px;color:#545454;transform:scaleX(1.2700);">24000</span><span class="t se" style="left:456.07px;top:552.10px;font-size:12.3px;color:#545454;transform:scaleX(1.2700);">25000</span><span class="t se" style="left:446.25px;top:415.00px;font-size:12.5px;color:#8c8c8c;transform:scaleX(1.2149);">aida01 1.8.L</span><span class="t se" style="left:731.26px;top:401.20px;font-size:12.3px;color:#545454;transform:scaleX(1.2700);">200</span><span class="t se" style="left:731.26px;top:436.15px;font-size:12.3px;color:#545454;transform:scaleX(1.2700);">150</span><span class="t se" style="left:731.26px;top:471.10px;font-size:12.3px;color:#545454;transform:scaleX(1.2700);">100</span><span class="t se" style="left:739.08px;top:506.05px;font-size:12.3px;color:#545454;transform:scaleX(1.2700);">50</span><span class="t se" style="left:746.88px;top:541.00px;font-size:12.3px;color:#545454;transform:scaleX(1.2700);">0</span><span class="t se" style="left:752.17px;top:552.10px;font-size:12.3px;color:#545454;transform:scaleX(1.2700);">19000</span><span class="t se" style="left:807.77px;top:552.10px;font-size:12.3px;color:#545454;transform:scaleX(1.2700);">20000</span><span class="t se" style="left:863.17px;top:552.10px;font-size:12.3px;color:#545454;transform:scaleX(1.2700);">21000</span><span class="t se" style="left:919.27px;top:552.10px;font-size:12.3px;color:#545454;transform:scaleX(1.2700);">22000</span><span class="t se" style="left:975.17px;top:552.10px;font-size:12.3px;color:#545454;transform:scaleX(1.2700);">23000</span><span class="t se" style="left:1030.67px;top:552.10px;font-size:12.3px;color:#545454;transform:scaleX(1.2700);">24000</span><span class="t se" style="left:1086.77px;top:552.10px;font-size:12.3px;color:#545454;transform:scaleX(1.2700);">25000</span><span class="t se" style="left:1076.95px;top:415.00px;font-size:12.5px;color:#000;transform:scaleX(1.2149);">aida02 1.8.L</span><span class="t se" style="left:1361.66px;top:401.20px;font-size:12.3px;color:#545454;transform:scaleX(1.2700);">200</span><span class="t se" style="left:1361.66px;top:436.15px;font-size:12.3px;color:#545454;transform:scaleX(1.2700);">150</span><span class="t se" style="left:1361.66px;top:471.10px;font-size:12.3px;color:#545454;transform:scaleX(1.2700);">100</span><span class="t se" style="left:1369.48px;top:506.05px;font-size:12.3px;color:#545454;transform:scaleX(1.2700);">50</span><span class="t se" style="left:1377.28px;top:541.00px;font-size:12.3px;color:#545454;transform:scaleX(1.2700);">0</span><span class="t se" style="left:1382.57px;top:552.10px;font-size:12.3px;color:#545454;transform:scaleX(1.2700);">19000</span><span class="t se" style="left:1438.17px;top:552.10px;font-size:12.3px;color:#545454;transform:scaleX(1.2700);">20000</span><span class="t se" style="left:1493.57px;top:552.10px;font-size:12.3px;color:#545454;transform:scaleX(1.2700);">21000</span><span class="t se" style="left:1549.67px;top:552.10px;font-size:12.3px;color:#545454;transform:scaleX(1.2700);">22000</span><span class="t se" style="left:1605.57px;top:552.10px;font-size:12.3px;color:#545454;transform:scaleX(1.2700);">23000</span><span class="t se" style="left:1661.07px;top:552.10px;font-size:12.3px;color:#545454;transform:scaleX(1.2700);">24000</span><span class="t se" style="left:1717.17px;top:552.10px;font-size:12.3px;color:#545454;transform:scaleX(1.2700);">25000</span><span class="t se" style="left:1707.35px;top:415.00px;font-size:12.5px;color:#8c8c8c;transform:scaleX(1.2149);">aida05 1.8.L</span><span class="t se" style="left:100.56px;top:582.00px;font-size:12.3px;color:#545454;transform:scaleX(1.2700);">200</span><span class="t se" style="left:100.56px;top:617.00px;font-size:12.3px;color:#545454;transform:scaleX(1.2700);">150</span><span class="t se" style="left:100.56px;top:652.00px;font-size:12.3px;color:#545454;transform:scaleX(1.2700);">100</span><span class="t se" style="left:108.38px;top:687.00px;font-size:12.3px;color:#545454;transform:scaleX(1.2700);">50</span><span class="t se" style="left:116.18px;top:722.00px;font-size:12.3px;color:#545454;transform:scaleX(1.2700);">0</span><span class="t se" style="left:121.47px;top:734.10px;font-size:12.3px;color:#545454;transform:scaleX(1.2700);">19000</span><span class="t se" style="left:177.07px;top:734.10px;font-size:12.3px;color:#545454;transform:scaleX(1.2700);">20000</span><span class="t se" style="left:232.47px;top:734.10px;font-size:12.3px;color:#545454;transform:scaleX(1.2700);">21000</span><span class="t se" style="left:288.57px;top:734.10px;font-size:12.3px;color:#545454;transform:scaleX(1.2700);">22000</span><span class="t se" style="left:344.47px;top:734.10px;font-size:12.3px;color:#545454;transform:scaleX(1.2700);">23000</span><span class="t se" style="left:399.97px;top:734.10px;font-size:12.3px;color:#545454;transform:scaleX(1.2700);">24000</span><span class="t se" style="left:456.07px;top:734.10px;font-size:12.3px;color:#545454;transform:scaleX(1.2700);">25000</span><span class="t se" style="left:446.25px;top:596.85px;font-size:12.5px;color:#8c8c8c;transform:scaleX(1.2149);">aida06 1.8.L</span><span class="t se" style="left:731.26px;top:582.00px;font-size:12.3px;color:#545454;transform:scaleX(1.2700);">200</span><span class="t se" style="left:731.26px;top:617.00px;font-size:12.3px;color:#545454;transform:scaleX(1.2700);">150</span><span class="t se" style="left:731.26px;top:652.00px;font-size:12.3px;color:#545454;transform:scaleX(1.2700);">100</span><span class="t se" style="left:739.08px;top:687.00px;font-size:12.3px;color:#545454;transform:scaleX(1.2700);">50</span><span class="t se" style="left:746.88px;top:722.00px;font-size:12.3px;color:#545454;transform:scaleX(1.2700);">0</span><span class="t se" style="left:752.17px;top:734.10px;font-size:12.3px;color:#545454;transform:scaleX(1.2700);">19000</span><span class="t se" style="left:807.77px;top:734.10px;font-size:12.3px;color:#545454;transform:scaleX(1.2700);">20000</span><span class="t se" style="left:863.17px;top:734.10px;font-size:12.3px;color:#545454;transform:scaleX(1.2700);">21000</span><span class="t se" style="left:919.27px;top:734.10px;font-size:12.3px;color:#545454;transform:scaleX(1.2700);">22000</span><span class="t se" style="left:975.17px;top:734.10px;font-size:12.3px;color:#545454;transform:scaleX(1.2700);">23000</span><span class="t se" style="left:1030.67px;top:734.10px;font-size:12.3px;color:#545454;transform:scaleX(1.2700);">24000</span><span class="t se" style="left:1086.77px;top:734.10px;font-size:12.3px;color:#545454;transform:scaleX(1.2700);">25000</span><span class="t se" style="left:1076.95px;top:596.85px;font-size:12.5px;color:#8c8c8c;transform:scaleX(1.2240);">aida11 1.8.L</span><span class="t se" style="left:1361.66px;top:582.00px;font-size:12.3px;color:#545454;transform:scaleX(1.2700);">200</span><span class="t se" style="left:1361.66px;top:617.00px;font-size:12.3px;color:#545454;transform:scaleX(1.2700);">150</span><span class="t se" style="left:1361.66px;top:652.00px;font-size:12.3px;color:#545454;transform:scaleX(1.2700);">100</span><span class="t se" style="left:1369.48px;top:687.00px;font-size:12.3px;color:#545454;transform:scaleX(1.2700);">50</span><span class="t se" style="left:1377.28px;top:722.00px;font-size:12.3px;color:#545454;transform:scaleX(1.2700);">0</span><span class="t se" style="left:1382.57px;top:734.10px;font-size:12.3px;color:#545454;transform:scaleX(1.2700);">19000</span><span class="t se" style="left:1438.17px;top:734.10px;font-size:12.3px;color:#545454;transform:scaleX(1.2700);">20000</span><span class="t se" style="left:1493.57px;top:734.10px;font-size:12.3px;color:#545454;transform:scaleX(1.2700);">21000</span><span class="t se" style="left:1549.67px;top:734.10px;font-size:12.3px;color:#545454;transform:scaleX(1.2700);">22000</span><span class="t se" style="left:1605.57px;top:734.10px;font-size:12.3px;color:#545454;transform:scaleX(1.2700);">23000</span><span class="t se" style="left:1661.07px;top:734.10px;font-size:12.3px;color:#545454;transform:scaleX(1.2700);">24000</span><span class="t se" style="left:1717.17px;top:734.10px;font-size:12.3px;color:#545454;transform:scaleX(1.2700);">25000</span><span class="t se" style="left:1707.35px;top:596.85px;font-size:12.5px;color:#8c8c8c;transform:scaleX(1.2149);">aida12 1.8.L</span><span class="t se" style="left:100.56px;top:763.20px;font-size:12.3px;color:#545454;transform:scaleX(1.2700);">200</span><span class="t se" style="left:100.56px;top:798.18px;font-size:12.3px;color:#545454;transform:scaleX(1.2700);">150</span><span class="t se" style="left:100.56px;top:833.15px;font-size:12.3px;color:#545454;transform:scaleX(1.2700);">100</span><span class="t se" style="left:108.38px;top:868.12px;font-size:12.3px;color:#545454;transform:scaleX(1.2700);">50</span><span class="t se" style="left:116.18px;top:903.10px;font-size:12.3px;color:#545454;transform:scaleX(1.2700);">0</span><span class="t se" style="left:121.47px;top:915.10px;font-size:12.3px;color:#545454;transform:scaleX(1.2700);">19000</span><span class="t se" style="left:177.07px;top:915.10px;font-size:12.3px;color:#545454;transform:scaleX(1.2700);">20000</span><span class="t se" style="left:232.47px;top:915.10px;font-size:12.3px;color:#545454;transform:scaleX(1.2700);">21000</span><span class="t se" style="left:288.57px;top:915.10px;font-size:12.3px;color:#545454;transform:scaleX(1.2700);">22000</span><span class="t se" style="left:344.47px;top:915.10px;font-size:12.3px;color:#545454;transform:scaleX(1.2700);">23000</span><span class="t se" style="left:399.97px;top:915.10px;font-size:12.3px;color:#545454;transform:scaleX(1.2700);">24000</span><span class="t se" style="left:456.07px;top:915.10px;font-size:12.3px;color:#545454;transform:scaleX(1.2700);">25000</span><span class="t se" style="left:446.25px;top:777.90px;font-size:12.5px;color:#8c8c8c;transform:scaleX(1.2149);">aida15 1.8.L</span><span class="t se" style="left:731.26px;top:763.20px;font-size:12.3px;color:#545454;transform:scaleX(1.2700);">200</span><span class="t se" style="left:731.26px;top:798.18px;font-size:12.3px;color:#545454;transform:scaleX(1.2700);">150</span><span class="t se" style="left:731.26px;top:833.15px;font-size:12.3px;color:#545454;transform:scaleX(1.2700);">100</span><span class="t se" style="left:739.08px;top:868.12px;font-size:12.3px;color:#545454;transform:scaleX(1.2700);">50</span><span class="t se" style="left:746.88px;top:903.10px;font-size:12.3px;color:#545454;transform:scaleX(1.2700);">0</span><span class="t se" style="left:752.17px;top:915.10px;font-size:12.3px;color:#545454;transform:scaleX(1.2700);">19000</span><span class="t se" style="left:807.77px;top:915.10px;font-size:12.3px;color:#545454;transform:scaleX(1.2700);">20000</span><span class="t se" style="left:863.17px;top:915.10px;font-size:12.3px;color:#545454;transform:scaleX(1.2700);">21000</span><span class="t se" style="left:919.27px;top:915.10px;font-size:12.3px;color:#545454;transform:scaleX(1.2700);">22000</span><span class="t se" style="left:975.17px;top:915.10px;font-size:12.3px;color:#545454;transform:scaleX(1.2700);">23000</span><span class="t se" style="left:1030.67px;top:915.10px;font-size:12.3px;color:#545454;transform:scaleX(1.2700);">24000</span><span class="t se" style="left:1086.77px;top:915.10px;font-size:12.3px;color:#545454;transform:scaleX(1.2700);">25000</span><span class="t se" style="left:1076.95px;top:777.90px;font-size:12.5px;color:#8c8c8c;transform:scaleX(1.2149);">aida16 1.8.L</span>
<div class="btn" style="left:7.00px;top:947.00px;width:110.50px;height:20.00px"></div><span class="t sa" style="left:12.00px;top:949.90px;font-size:12px;color:#000;transform:scaleX(0.9841);">Empty Log Window</span>
<div class="btn" style="left:123.25px;top:947.00px;width:147.25px;height:20.00px"></div><span class="t sa" style="left:128.00px;top:949.90px;font-size:12px;color:#000;transform:scaleX(0.9676);">Send Log Window to ELog</span>
<div class="btn" style="left:275.25px;top:947.00px;width:44.25px;height:20.00px"></div><span class="t sa" style="left:280.00px;top:949.90px;font-size:12px;color:#000;transform:scaleX(0.9071);">Reload</span>
<div class="btn" style="left:324.25px;top:947.00px;width:38.25px;height:20.00px"></div><span class="t sa" style="left:329.25px;top:949.90px;font-size:12px;color:#000;transform:scaleX(0.9008);">Reset</span>
<div class="btn" style="left:367.00px;top:947.00px;width:88.75px;height:20.00px"></div><span class="t sa" style="left:371.75px;top:949.90px;font-size:12px;color:#000;transform:scaleX(0.9636);">Show Variables</span>
<div class="btn" style="left:461.25px;top:947.00px;width:106.25px;height:20.00px"></div><span class="t sa" style="left:465.75px;top:949.90px;font-size:12px;color:#000;transform:scaleX(0.9860);">Show Log Window</span>
<div class="btn" style="left:573.25px;top:947.00px;width:87.50px;height:20.00px"></div><span class="t sa" style="left:578.00px;top:949.90px;font-size:12px;color:#000;transform:scaleX(0.9380);">Enable Logging</span>
<div class="btn" style="left:1781.25px;top:947.00px;width:119.65px;height:20.00px"></div><span class="t sa" style="left:1785.60px;top:949.90px;font-size:12px;color:#000;transform:scaleX(0.9868);">How to use this page</span>
<span class="t se" style="left:1600.30px;top:980.70px;font-size:16px;color:#ff0000;transform:scaleX(1.1327);-webkit-text-stroke:0.250px #f00;">Last Updated: January 31, 2024 12:16:47</span>
<div class="sbtrack"></div><div class="sbthumb"></div>
</body></html>
